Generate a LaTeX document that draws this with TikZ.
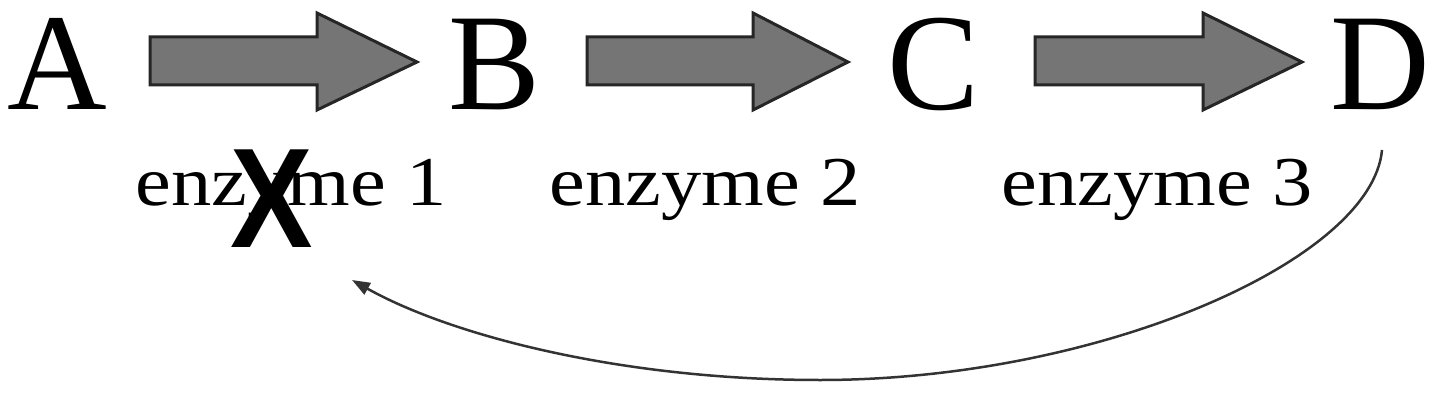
\documentclass[tikz,border=0pt]{standalone}
\usepackage{fontspec}
\setmainfont{Liberation Serif}
\newfontfamily\xfont{Liberation Sans}
\usetikzlibrary{arrows.meta}
\tikzset{
  letter/.style={anchor=base, inner sep=0pt, font=\fontsize{138}{138}\selectfont},
  enz/.style={anchor=base, inner sep=0pt, xscale=1.15, font=\fontsize{70}{70}\selectfont},
  bigarrow/.style={fill=black!54, draw=black!85, line width=3pt, line join=miter},
  feedback/.style={draw=black!80, line width=2.5pt, -{Triangle[length=18pt,width=13pt]}}
}
\begin{document}
\begin{tikzpicture}[x=1pt,y=-1pt]
\useasboundingbox (0,0) rectangle (1440,401);
\node[letter] (A) at (57,110) {A};
\node[letter] (B) at (495,110) {B};
\node[letter] (C) at (934,110) {C};
\node[letter] (D) at (1380,110) {D};
\node[enz] (e1) at (291,205) {enzyme 1};
\node[enz] (e2) at (705,205) {enzyme 2};
\node[enz] (e3) at (1157,205) {enzyme 3};
\node[inner sep=0pt, font=\xfont\bfseries\fontsize{142}{142}\selectfont, xscale=0.87] (X) at (272,199) {X};
% big arrows
\foreach \s/\b/\t in {150/317/417, 587/753/848, 1035/1203/1302}{
  \draw[bigarrow] (\s,37) -- (\b,37) -- (\b,13) -- (\t,62) -- (\b,110) -- (\b,85) -- (\s,85) -- cycle;
}
\coordinate (fstart) at (1382,150);
\coordinate (fend) at (352,280);
\draw[feedback] (fstart) .. controls (1372,260) and (1100,380) .. (820,380) .. controls (620,380) and (450,335) .. (fend);
\end{tikzpicture}
\end{document}
